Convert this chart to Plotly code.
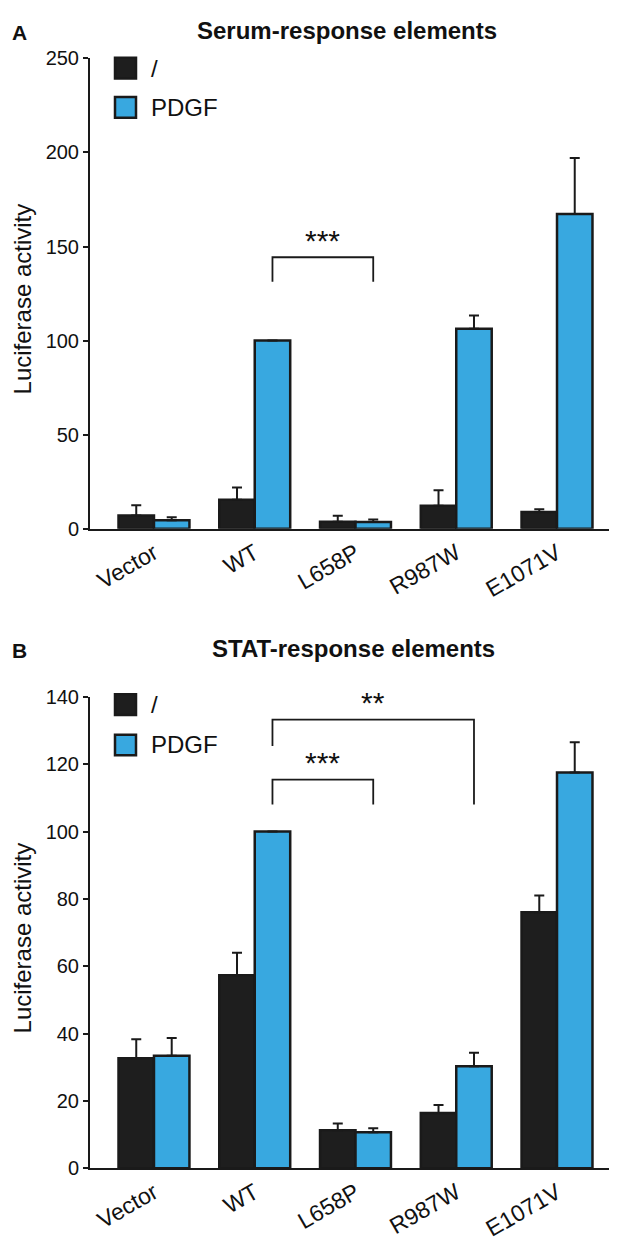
import plotly.graph_objects as go

# ---------------- data ----------------
categories = ["Vector", "WT", "L658P", "R987W", "E1071V"]

serum_ctrl = [7.1, 15.5, 3.8, 12.3, 9.0]
serum_ctrl_err = [5.4, 6.5, 3.1, 8.2, 1.4]
serum_pdgf = [4.5, 100.0, 3.6, 106.3, 167.3]
serum_pdgf_err = [1.6, 0.0, 1.3, 7.1, 29.7]

stat_ctrl = [32.7, 57.3, 11.3, 16.4, 76.0]
stat_ctrl_err = [5.6, 6.7, 2.0, 2.4, 5.0]
stat_pdgf = [33.4, 100.0, 10.7, 30.3, 117.5]
stat_pdgf_err = [5.3, 0.0, 1.2, 4.0, 9.0]

serum_ticks = [0, 50, 100, 150, 200, 250]
stat_ticks = [0, 20, 40, 60, 80, 100, 120, 140]

series_names = ["/", "PDGF"]

# brackets: (from category, to category, top, left leg bottom, right leg bottom, label)
serum_brackets = [(1, 2, 144.3, 131.3, 131.3, "***")]
stat_brackets = [(1, 2, 115.4, 108.0, 108.0, "***"),
                 (1, 3, 133.2, 125.4, 108.0, "**")]

# ---------------- style ----------------
W, H = 617, 1245
BLACK = "#1e1e1e"
BLUE = "#38a8e0"
EDGE = "#1a1a1a"
FONT = "Liberation Sans, Arial, sans-serif"
BAR_W = 0.352


def fx(px):
    return px / W


def fy(py):
    return 1 - py / H


fig = go.Figure()

panels = [
    dict(ctrl=serum_ctrl, ce=serum_ctrl_err, pdgf=serum_pdgf, pe=serum_pdgf_err,
         ticks=serum_ticks, rng=[0, 250], top=40, bottom=519, brackets=serum_brackets,
         xa="x", ya="y", title="Serum-response elements", letter="A",
         title_y=12, title_x=339, legend_y=[50, 90]),
    dict(ctrl=stat_ctrl, ce=stat_ctrl_err, pdgf=stat_pdgf, pe=stat_pdgf_err,
         ticks=stat_ticks, rng=[0, 140], top=690, bottom=1170, brackets=stat_brackets,
         xa="x2", ya="y2", title="STAT-response elements", letter="B",
         title_y=641, title_x=345, legend_y=[698, 739]),
]

idx = list(range(len(categories)))
annotations = []
shapes = []

for p in panels:
    for vals, errs, color, off in [(p["ctrl"], p["ce"], BLACK, -BAR_W),
                                   (p["pdgf"], p["pe"], BLUE, 0.0)]:
        fig.add_trace(go.Bar(
            x=idx, y=vals, width=BAR_W, offset=off,
            marker=dict(color=color, line=dict(color=EDGE, width=2.5)),
            error_y=dict(type="data", array=errs, arrayminus=[0] * len(errs),
                         symmetric=False, color=EDGE, thickness=2, width=5),
            xaxis=p["xa"], yaxis=p["ya"], showlegend=False, hoverinfo="skip",
        ))
    # significance brackets
    for a, b, top, l_bot, r_bot, lab in p["brackets"]:
        xa_ = a + BAR_W / 2
        xb_ = b + BAR_W / 2
        fig.add_trace(go.Scatter(
            x=[xa_, xa_, xb_, xb_], y=[l_bot, top, top, r_bot], mode="lines",
            line=dict(color=EDGE, width=1.8), xaxis=p["xa"], yaxis=p["ya"],
            showlegend=False, hoverinfo="skip",
        ))
        annotations.append(dict(
            x=(xa_ + xb_) / 2, y=top, xref=p["xa"], yref=p["ya"], text=lab,
            showarrow=False, yanchor="middle", yshift=17,
            font=dict(size=30, color="#111", family=FONT),
        ))
    # title and panel letter
    annotations.append(dict(x=fx(p["title_x"]), y=fy(p["title_y"]), xref="paper",
                            yref="paper", text="<b>%s</b>" % p["title"],
                            showarrow=False, xanchor="center", yanchor="middle",
                            font=dict(size=24, color="#111", family=FONT)))
    annotations.append(dict(x=fx(2), y=fy(p["title_y"] + 2), xref="paper", yref="paper",
                            text="<b>%s</b>" % p["letter"], showarrow=False,
                            xanchor="left", yanchor="middle",
                            font=dict(size=21, color="#111", family=FONT)))
    # y axis title
    annotations.append(dict(x=fx(14), y=fy((p["top"] + p["bottom"]) / 2 + 6),
                            xref="paper", yref="paper", text="Luciferase activity",
                            textangle=-90, showarrow=False, xanchor="center",
                            yanchor="middle",
                            font=dict(size=24, color="#111", family=FONT)))
    # legend
    for name, color, ly in zip(series_names, [BLACK, BLUE], p["legend_y"]):
        shapes.append(dict(type="rect", xref="paper", yref="paper",
                           x0=fx(107), x1=fx(128), y0=fy(ly - 10.5), y1=fy(ly + 10.5),
                           fillcolor=color, line=dict(color=EDGE, width=2.5)))
        annotations.append(dict(x=fx(141), y=fy(ly), xref="paper", yref="paper",
                                text=name, showarrow=False, xanchor="left",
                                yanchor="middle",
                                font=dict(size=24, color="#111", family=FONT)))

axis_common = dict(showgrid=False, zeroline=False, showline=True, linecolor=EDGE,
                   linewidth=2)

xdom = [fx(82), fx(614)]
xrange_ = [-0.635, 4.645]

fig.update_layout(
    width=W, height=H, margin=dict(l=0, r=0, t=0, b=0),
    paper_bgcolor="white", plot_bgcolor="white",
    barmode="overlay",
    font=dict(family=FONT, color="#111"),
    xaxis=dict(domain=xdom, range=xrange_, tickvals=idx, ticktext=categories,
               tickangle=-30, ticks="", tickfont=dict(size=23), anchor="y",
               **axis_common),
    yaxis=dict(domain=[fy(519), fy(40)], range=[0, 250], tickvals=serum_ticks,
               ticks="outside", ticklen=5, tickwidth=2, tickcolor=EDGE,
               tickfont=dict(size=20), anchor="x", **axis_common),
    xaxis2=dict(domain=xdom, range=xrange_, tickvals=idx, ticktext=categories,
                tickangle=-30, ticks="", tickfont=dict(size=23), anchor="y2",
                **axis_common),
    yaxis2=dict(domain=[fy(1170), fy(690)], range=[0, 140], tickvals=stat_ticks,
                ticks="outside", ticklen=5, tickwidth=2, tickcolor=EDGE,
                tickfont=dict(size=20), anchor="x2", **axis_common),
    annotations=annotations,
    shapes=shapes,
)

fig.write_html("out.html")
